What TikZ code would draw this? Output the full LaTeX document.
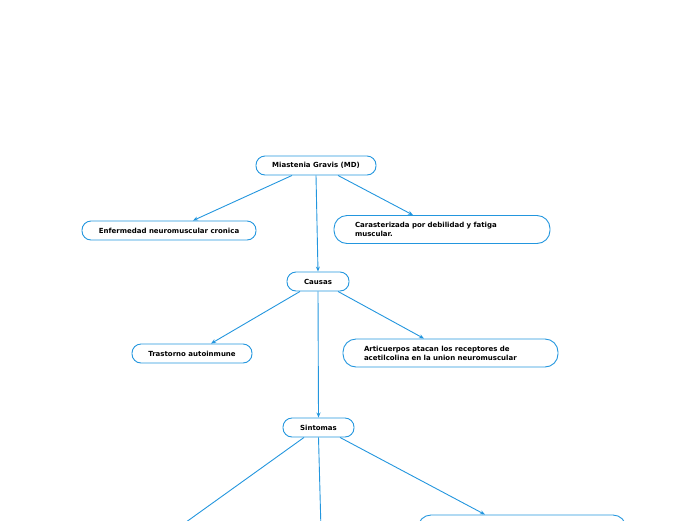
\documentclass[tikz,border=0pt]{standalone}
\usepackage{fontspec}
\setmainfont{DejaVu Sans}
\usetikzlibrary{arrows.meta}
\definecolor{mapblue}{RGB}{35,150,222}
\tikzset{
  topic/.style={draw=mapblue, line width=0.9pt, rounded corners=9pt,
    minimum height=19pt, inner sep=2pt, text=black,
    font=\fontsize{7}{9}\selectfont\bfseries},
  widetopic/.style={topic, rounded corners=13pt, minimum height=28pt,
    align=left, inner xsep=21pt},
  link/.style={draw=mapblue, line width=0.9pt, -{Stealth[length=5pt,width=4pt]}},
  loose/.style={draw=mapblue, line width=0.9pt}
}
\begin{document}
\begin{tikzpicture}[x=1pt,y=-1pt]
  \useasboundingbox (0,0) rectangle (696,520);
  \clip (0,0) rectangle (696,520);
  % nodos
  \node[topic, minimum width=120pt] (mg) at (316,165.5) {Miastenia Gravis (MD)};
  \node[topic, minimum width=174pt] (enf) at (169,230.5) {Enfermedad neuromuscular cronica};
  \node[widetopic, text width=174pt] (car) at (442,229.5)
    {Carasterizada por debilidad y fatiga\\muscular.};
  \node[topic, minimum width=62pt] (cau) at (318,281.5) {Causas};
  \node[topic, minimum width=120pt] (tra) at (192,353.5) {Trastorno autoinmune};
  \node[widetopic, text width=173pt] (art) at (450.5,353)
    {Articuerpos atacan los receptores de\\acetilcolina en la union neuromuscular};
  \node[topic, minimum width=71pt] (sin) at (318.5,427.5) {Sintomas};
  \node[widetopic, text width=166pt] (sde) at (522,529) {};
  % extremos fuera de la hoja
  \coordinate (siz) at (175,530);
  \coordinate (sce) at (321,530);
  % conectores
  \draw[link] ([xshift=-24pt]mg.south) -- ([xshift=24pt]enf.north);
  \draw[link] (mg.south) -- (cau.north);
  \draw[link] ([xshift=22pt]mg.south) -- ([xshift=-29pt]car.north);
  \draw[link] ([xshift=-18pt]cau.south) -- ([xshift=19pt]tra.north);
  \draw[link] (cau.south) -- (sin.north);
  \draw[link] ([xshift=20pt]cau.south) -- ([xshift=-26.5pt]art.north);
  \draw[loose] ([xshift=-14.5pt]sin.south) -- (siz);
  \draw[loose] (sin.south) -- (sce);
  \draw[link] ([xshift=21.5pt]sin.south) -- ([xshift=-37pt]sde.north);
\end{tikzpicture}
\end{document}
